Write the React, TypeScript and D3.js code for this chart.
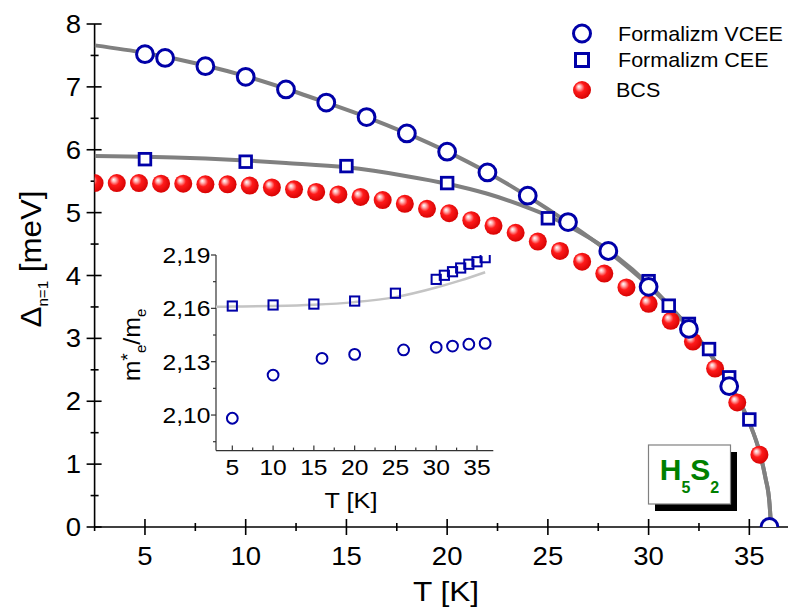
import React from "react";
import * as d3 from "d3";

const FONT = "'Liberation Sans', Arial, Helvetica, sans-serif";

// ---- main panel data ----
const vceeT = [5, 6, 8, 10, 12, 14, 16, 18, 20, 22, 24, 26, 28, 30, 32, 34, 36];
const vceeGap = [7.52, 7.46, 7.33, 7.16, 6.96, 6.75, 6.52, 6.26, 5.97, 5.64, 5.27, 4.85, 4.39, 3.82, 3.15, 2.24, 0];
const ceeT = [5, 10, 15, 20, 25, 30, 31, 32, 33, 34, 35];
const ceeGap = [5.85, 5.81, 5.74, 5.47, 4.91, 3.91, 3.52, 3.23, 2.83, 2.38, 1.71];
const bcsT = [2.5, 3.6, 4.7, 5.8, 6.9, 8.0, 9.1, 10.2, 11.3, 12.4, 13.5, 14.6, 15.7, 16.8, 17.9, 19.0, 20.1, 21.2, 22.3, 23.4, 24.5, 25.6, 26.7, 27.8, 28.9, 30.0, 31.1, 32.2, 33.3, 34.4, 35.5];
const bcsGap = [5.47, 5.47, 5.47, 5.46, 5.46, 5.45, 5.45, 5.43, 5.40, 5.37, 5.33, 5.29, 5.25, 5.20, 5.14, 5.06, 4.99, 4.88, 4.79, 4.68, 4.54, 4.39, 4.22, 4.03, 3.81, 3.55, 3.28, 2.95, 2.52, 1.98, 1.15];

// fitted curves
const vceeFitT = [2.5, 5, 8, 10, 12, 14, 16, 18, 20, 22, 24, 26, 28, 30, 31, 32, 33, 34, 35, 35.5, 35.8, 36.0, 36.08];
const vceeFitGap = [7.66, 7.54, 7.34, 7.17, 6.97, 6.75, 6.52, 6.26, 5.97, 5.64, 5.26, 4.84, 4.38, 3.84, 3.52, 3.17, 2.78, 2.28, 1.66, 1.2, 0.78, 0.38, 0];
const ceeFitT = [2.5, 5, 8, 10, 12, 15, 18, 20, 22, 24, 25, 26, 28, 30, 31, 32, 33, 34, 35, 35.5, 35.8, 36.0, 36.08];
const ceeFitGap = [5.9, 5.89, 5.86, 5.83, 5.79, 5.72, 5.58, 5.46, 5.3, 5.08, 4.95, 4.79, 4.4, 3.86, 3.53, 3.17, 2.78, 2.28, 1.66, 1.2, 0.78, 0.38, 0];

const mainXTicks = [5, 10, 15, 20, 25, 30, 35];
const mainXMinor = [7.5, 12.5, 17.5, 22.5, 27.5, 32.5];
const mainYTicks = [0, 1, 2, 3, 4, 5, 6, 7, 8];
const mainYMinor = [0.5, 1.5, 2.5, 3.5, 4.5, 5.5, 6.5, 7.5];

// ---- inset data ----
const insCeeT = [5, 10, 15, 20, 25, 30, 31, 32, 33, 34, 35, 36];
const insCeeMass = [2.1613, 2.1619, 2.1624, 2.1641, 2.1685, 2.1763, 2.1786, 2.1806, 2.1827, 2.1848, 2.1862, 2.1885];
const insVceeT = [5, 10, 16, 20, 26, 30, 32, 34, 36];
const insVceeMass = [2.0982, 2.1225, 2.1319, 2.1341, 2.1366, 2.1381, 2.1388, 2.1398, 2.1403];
const insFitT = [3, 5, 10, 15, 20, 25, 30, 33, 36];
const insFitMass = [2.1609, 2.161, 2.1613, 2.162, 2.1635, 2.1663, 2.1717, 2.1757, 2.1803];

const insXTicks = [5, 10, 15, 20, 25, 30, 35];
const insXMinor = [7.5, 12.5, 17.5, 22.5, 27.5, 32.5];
const insYTicks = [2.1, 2.13, 2.16, 2.19];
const insYMinor = [2.085, 2.115, 2.145, 2.175];

const legendLabels = ["Formalizm VCEE", "Formalizm CEE", "BCS"];

const BLUE = "#0000a8";
const GRAY = "#808080";

const commaFmt = (v: number) => d3.format(".2f")(v).replace(".", ",");

function Txt(props: { x: number; y: number; size: number; anchor?: string; sx?: number; children: any; weight?: string; fill?: string; rotate?: number }) {
  const { x, y, size, anchor = "start", sx = 1.1, children, weight = "normal", fill = "#000", rotate = 0 } = props;
  return (
    <text
      transform={`translate(${x},${y}) rotate(${rotate}) scale(${sx},1)`}
      fontFamily={FONT}
      fontSize={size}
      textAnchor={anchor}
      fontWeight={weight}
      fill={fill}
    >
      {children}
    </text>
  );
}

export default function App() {
  const x = d3.scaleLinear().domain([2.5, 36.8]).range([94.6, 785.6]);
  const y = d3.scaleLinear().domain([0, 8]).range([527, 24]);

  const xi = d3.scaleLinear().domain([3, 37]).range([216, 493.3]);
  const yi = d3.scaleLinear().domain([2.08, 2.19]).range([450.6, 255]);

  const mainLine = d3
    .line<[number, number]>()
    .x((d) => x(d[0]))
    .y((d) => y(d[1]))
    .curve(d3.curveMonotoneX);
  const insLine = d3
    .line<[number, number]>()
    .x((d) => xi(d[0]))
    .y((d) => yi(d[1]))
    .curve(d3.curveMonotoneX);

  const vceeFit = vceeFitT.map((t, i) => [t, vceeFitGap[i]] as [number, number]);
  const ceeFit = ceeFitT.map((t, i) => [t, ceeFitGap[i]] as [number, number]);
  const insFit = insFitT.map((t, i) => [t, insFitMass[i]] as [number, number]);

  const [x0, x1] = x.range();
  const [y0, y1] = y.range();

  return (
    <svg width={788} height={611} style={{ position: "absolute", left: 0, top: 0, background: "#fff" }}>
      <defs>
        <radialGradient id="sph" cx="45%" cy="45%" r="60%" fx="32%" fy="30%">
          <stop offset="0%" stopColor="#ffffff" />
          <stop offset="18%" stopColor="#ffb4b4" />
          <stop offset="45%" stopColor="#ff1a1a" />
          <stop offset="100%" stopColor="#d20000" />
        </radialGradient>
        <clipPath id="mainClip">
          <rect x={x0} y={0} width={788 - x0} height={y0} />
        </clipPath>
        <clipPath id="insClip">
          <rect x={xi(3)} y={yi(2.19)} width={xi(37) - xi(3)} height={yi(2.08) - yi(2.19)} />
        </clipPath>
      </defs>

      <rect x={0} y={0} width={788} height={611} fill="#fff" />

      {/* main axes */}
      <line x1={x0} x2={788} y1={y0} y2={y0} stroke="#000" strokeWidth={1.6} />
      <line x1={x0} x2={x0} y1={y1} y2={y0 + 4} stroke="#000" strokeWidth={1.6} />
      {mainXTicks.map((t) => (
        <line key={"xt" + t} x1={x(t)} x2={x(t)} y1={y0 - 8} y2={y0 + 8} stroke="#000" strokeWidth={1.6} />
      ))}
      {mainXMinor.map((t) => (
        <line key={"xm" + t} x1={x(t)} x2={x(t)} y1={y0 - 4} y2={y0 + 4} stroke="#000" strokeWidth={1.6} />
      ))}
      {mainYTicks.map((t) => (
        <line key={"yt" + t} x1={x0 - 8} x2={x0 + 7} y1={y(t)} y2={y(t)} stroke="#000" strokeWidth={1.6} />
      ))}
      {mainYMinor.map((t) => (
        <line key={"ym" + t} x1={x0 - 4} x2={x0 + 4} y1={y(t)} y2={y(t)} stroke="#000" strokeWidth={1.6} />
      ))}
      {mainXTicks.map((t) => (
        <Txt key={"xl" + t} x={x(t)} y={565} size={25} anchor="middle">
          {t}
        </Txt>
      ))}
      {mainYTicks.map((t) => (
        <Txt key={"yl" + t} x={81} y={y(t) + 9} size={25} anchor="end">
          {t}
        </Txt>
      ))}
      <Txt x={446} y={601} size={28} anchor="middle" sx={1.13}>
        T [K]
      </Txt>
      <text
        transform={`translate(41,259) rotate(-90) scale(1.08,1)`}
        fontFamily={FONT}
        fontSize={29}
        textAnchor="middle"
      >
        Δ
        <tspan fontSize={14} dy={7}>
          n=1
        </tspan>
        <tspan dy={-7}> [meV]</tspan>
      </text>

      {/* fitted curves */}
      <g clipPath="url(#mainClip)">
        <path d={mainLine(vceeFit) || ""} fill="none" stroke={GRAY} strokeWidth={4} />
        <path d={mainLine(ceeFit) || ""} fill="none" stroke={GRAY} strokeWidth={4} />

        {bcsT.map((t, i) => (
          <circle key={"b" + i} cx={x(t)} cy={y(bcsGap[i])} r={9} fill="url(#sph)" />
        ))}
        {ceeT.map((t, i) => (
          <rect
            key={"s" + i}
            x={x(t) - 5.8}
            y={y(ceeGap[i]) - 5.8}
            width={11.6}
            height={11.6}
            fill="#fff"
            stroke={BLUE}
            strokeWidth={2.8}
          />
        ))}
        {vceeT.map((t, i) => (
          <circle key={"c" + i} cx={x(t)} cy={y(vceeGap[i])} r={8.4} fill="#fff" stroke={BLUE} strokeWidth={3} />
        ))}
      </g>

      {/* legend */}
      <circle cx={582} cy={33.5} r={8.5} fill="#fff" stroke={BLUE} strokeWidth={3} />
      <rect x={582 - 6.5} y={60 - 6.5} width={13} height={13} fill="#fff" stroke={BLUE} strokeWidth={3} />
      <circle cx={582} cy={90} r={9} fill="url(#sph)" />
      <Txt x={618} y={40.7} size={20.5} sx={1.05}>
        {legendLabels[0]}
      </Txt>
      <Txt x={618} y={67.3} size={20.5} sx={1.05}>
        {legendLabels[1]}
      </Txt>
      <Txt x={616} y={97.3} size={20.5} sx={1.05}>
        {legendLabels[2]}
      </Txt>

      {/* H5S2 box */}
      <rect x={655} y={452} width={82} height={59} fill="#000" />
      <rect x={648.5} y={445} width={82} height={59} fill="#fff" stroke={GRAY} strokeWidth={1.2} />
      <text x={689.5} y={480} fontFamily={FONT} fontSize={30} fontWeight="bold" fill="#008000" textAnchor="middle">
        H
        <tspan fontSize={16} dy={13}>
          5
        </tspan>
        <tspan dy={-13}>S</tspan>
        <tspan fontSize={16} dy={13}>
          2
        </tspan>
      </text>

      {/* inset axes */}
      <line x1={xi(3)} x2={xi(37)} y1={yi(2.08)} y2={yi(2.08)} stroke="#333" strokeWidth={1.2} />
      <line x1={xi(3)} x2={xi(3)} y1={yi(2.19)} y2={yi(2.08)} stroke="#333" strokeWidth={1.2} />
      {insXTicks.map((t) => (
        <line key={"ixt" + t} x1={xi(t)} x2={xi(t)} y1={yi(2.08)} y2={yi(2.08) - 5} stroke="#333" strokeWidth={1.2} />
      ))}
      {insXMinor.map((t) => (
        <line key={"ixm" + t} x1={xi(t)} x2={xi(t)} y1={yi(2.08)} y2={yi(2.08) - 3} stroke="#333" strokeWidth={1.2} />
      ))}
      {insYTicks.map((t) => (
        <line key={"iyt" + t} x1={xi(3) - 5} x2={xi(3)} y1={yi(t)} y2={yi(t)} stroke="#333" strokeWidth={1.2} />
      ))}
      {insYMinor.map((t) => (
        <line key={"iym" + t} x1={xi(3) - 3} x2={xi(3)} y1={yi(t)} y2={yi(t)} stroke="#333" strokeWidth={1.2} />
      ))}
      {insXTicks.map((t) => (
        <Txt key={"ixl" + t} x={xi(t)} y={475} size={22} anchor="middle" sx={1.12}>
          {t}
        </Txt>
      ))}
      {insYTicks.map((t) => (
        <Txt key={"iyl" + t} x={210.5} y={yi(t) + 8} size={22} anchor="end" sx={1.12}>
          {commaFmt(t)}
        </Txt>
      ))}
      <Txt x={351} y={508} size={22} anchor="middle" sx={1.15}>
        T [K]
      </Txt>
      <text transform={`translate(140,345) rotate(-90) scale(1.08,1)`} fontFamily={FONT} fontSize={23} textAnchor="middle">
        m
        <tspan dy={-6} fontSize={18}>
          *
        </tspan>
        <tspan dy={12} fontSize={14}>
          e
        </tspan>
        <tspan dy={-6}>/m</tspan>
        <tspan dy={6} fontSize={14}>
          e
        </tspan>
      </text>

      <g clipPath="url(#insClip)">
        <path d={insLine(insFit) || ""} fill="none" stroke="#c4c4c4" strokeWidth={2.5} />
        {insCeeT.map((t, i) => (
          <rect
            key={"is" + i}
            x={xi(t) - 4.6}
            y={yi(insCeeMass[i]) - 4.6}
            width={9.2}
            height={9.2}
            fill="none"
            stroke={BLUE}
            strokeWidth={2}
          />
        ))}
        {insVceeT.map((t, i) => (
          <circle key={"ic" + i} cx={xi(t)} cy={yi(insVceeMass[i])} r={5.4} fill="none" stroke={BLUE} strokeWidth={2} />
        ))}
      </g>
    </svg>
  );
}
